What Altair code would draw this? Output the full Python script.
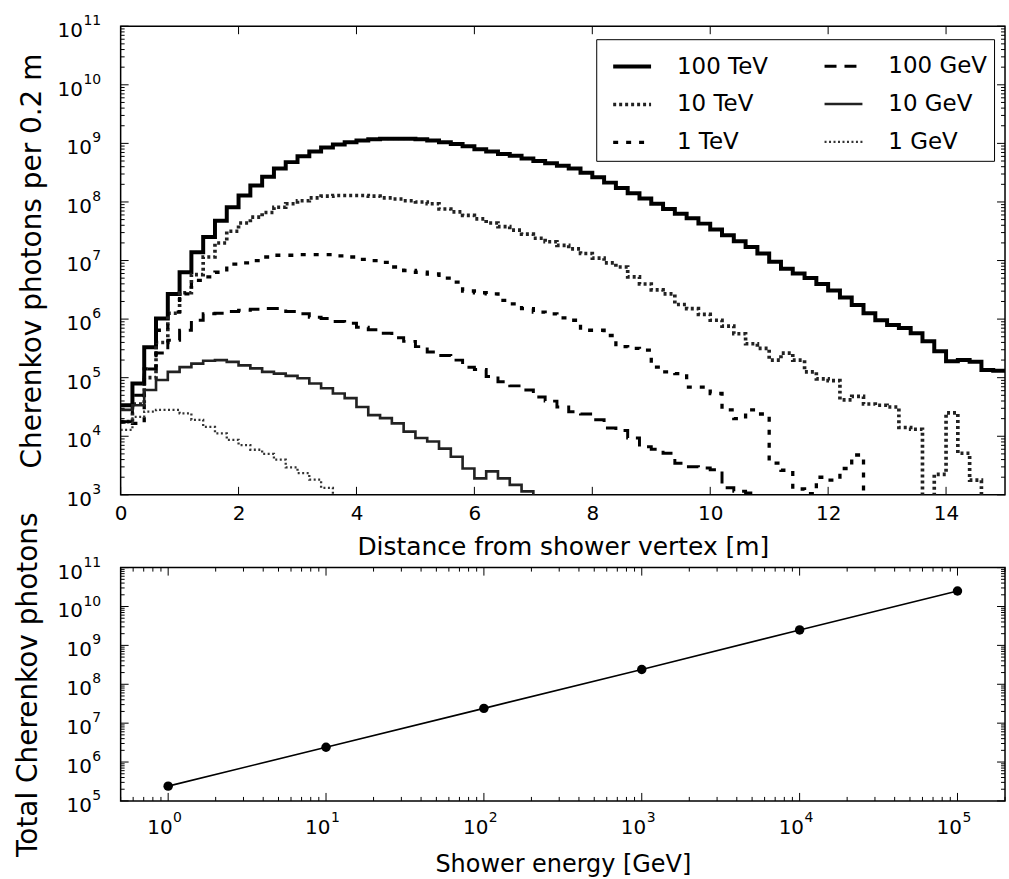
import altair as alt
import pandas as pd

# ---------------- data (log10 of photons per 0.2 m bin, bins start at 0.0, 0.2, ...) -------------
BIN_W = 0.2
# legend fills column by column: first column TeV, second column GeV
series_order = ["100 TeV", "10 TeV", "1 TeV", "100 GeV", "10 GeV", "1 GeV"]

log_100TeV = [4.53, 4.90, 5.52, 6.01, 6.43, 6.80, 7.14, 7.40, 7.68, 7.91,
              8.11, 8.28, 8.43, 8.57, 8.68, 8.78, 8.86, 8.93, 8.98, 9.02,
              9.05, 9.07, 9.08, 9.08, 9.08, 9.07, 9.05, 9.02, 8.99, 8.95,
              8.90, 8.86, 8.82, 8.79, 8.74, 8.70, 8.66, 8.62, 8.57, 8.50,
              8.42, 8.33, 8.24, 8.15, 8.06, 7.97, 7.88, 7.80, 7.72, 7.63,
              7.53, 7.43, 7.33, 7.23, 7.12, 6.98, 6.86, 6.78, 6.70, 6.60,
              6.49, 6.37, 6.24, 6.10, 5.98, 5.90, 5.85, 5.76, 5.62, 5.45,
              5.28, 5.30, 5.27, 5.13, 5.12]
log_10TeV = [4.25, 4.55, 5.00, 5.60, 6.10, 6.45, 6.76, 7.06, 7.30, 7.50,
             7.64, 7.74, 7.82, 7.91, 7.97, 8.02, 8.07, 8.10, 8.11, 8.11,
             8.11, 8.10, 8.07, 8.05, 8.02, 8.00, 7.97, 7.88, 7.83, 7.77,
             7.71, 7.64, 7.58, 7.52, 7.45, 7.38, 7.32, 7.26, 7.20, 7.12,
             7.04, 6.96, 6.89, 6.72, 6.60, 6.50, 6.43, 6.25, 6.18, 6.08,
             5.98, 5.88, 5.75, 5.58, 5.50, 5.30, 5.42, 5.30, 5.10, 4.98,
             4.95, 4.62, 4.68, 4.55, 4.53, 4.50, 4.15, 4.12, 2.50, 3.35,
             4.40, 3.71, 3.25, 2.50, 2.50]
log_1TeV = [4.24, 4.22, 5.15, 5.81, 6.12, 6.43, 6.66, 6.72, 6.80, 6.94,
            6.96, 7.00, 7.06, 7.09, 7.09, 7.10, 7.10, 7.10, 7.08, 7.06,
            7.02, 7.00, 6.97, 6.89, 6.83, 6.80, 6.77, 6.70, 6.63, 6.48,
            6.45, 6.43, 6.32, 6.26, 6.18, 6.12, 6.09, 6.02, 5.98, 5.81,
            5.81, 5.72, 5.53, 5.50, 5.47, 5.18, 5.10, 5.07, 4.84, 4.84,
            4.73, 4.45, 4.30, 4.45, 4.38, 3.54, 3.42, 3.10, 3.02, 3.30,
            3.25, 3.45, 3.68, 2.50]
log_100GeV = [4.25, 4.70, 5.15, 5.42, 5.64, 5.81, 5.98, 6.09, 6.10, 6.13,
              6.15, 6.17, 6.18, 6.18, 6.13, 6.09, 6.03, 6.01, 5.96, 5.93,
              5.86, 5.82, 5.76, 5.68, 5.62, 5.53, 5.44, 5.38, 5.30, 5.18,
              5.14, 5.02, 4.93, 4.86, 4.79, 4.67, 4.60, 4.50, 4.42, 4.38,
              4.28, 4.14, 4.10, 3.97, 3.82, 3.78, 3.71, 3.54, 3.48, 3.46,
              3.43, 3.12, 3.06, 3.03, 2.50]
log_10GeV = [4.45, 4.53, 4.79, 4.96, 5.10, 5.18, 5.24, 5.29, 5.30, 5.27,
             5.21, 5.16, 5.10, 5.07, 5.03, 4.99, 4.90, 4.82, 4.73, 4.65,
             4.50, 4.36, 4.31, 4.22, 4.08, 3.97, 3.91, 3.79, 3.65, 3.45,
             3.28, 3.40, 3.28, 3.17, 3.06, 2.50]
log_1GeV = [4.11, 4.33, 4.42, 4.45, 4.45, 4.39, 4.28, 4.16, 4.05, 3.94,
            3.85, 3.77, 3.70, 3.60, 3.47, 3.37, 3.26, 3.12, 2.50]

energies_GeV = [1, 10, 100, 1000, 10000, 100000]
total_photons = [2.4e5, 2.4e6, 2.4e7, 2.4e8, 2.5e9, 2.5e10]

x_tick_labels_top = [0, 2, 4, 6, 8, 10, 12, 14]
y_decades_top = [3, 4, 5, 6, 7, 8, 9, 10, 11]
x_decades_bot = [0, 1, 2, 3, 4, 5]
y_decades_bot = [5, 6, 7, 8, 9, 10, 11]

# ---------------- styles ----------------
series_colors = ["#000000", "#222222", "#000000", "#000000", "#222222", "#333333"]
series_dash = [[1, 0], [3, 3], [5, 8], [12, 8], [1, 0], [2, 2.5]]
series_width = [4, 2.3, 5, 4.5, 1.4, 1.4]

FONT = "DejaVu Sans"
W, H1, H2 = 887, 470, 234
MAJ, MIN = 8, 4
BASE_FS, EXP_FS = 20, 14
DIGIT_W = 0.636 * EXP_FS  # width of one superscript digit

# ---------------- build step data ----------------
rows = []
for name, vals in [("100 TeV", log_100TeV), ("10 TeV", log_10TeV), ("1 TeV", log_1TeV),
                   ("100 GeV", log_100GeV), ("10 GeV", log_10GeV), ("1 GeV", log_1GeV)]:
    for i, lv in enumerate(vals):
        rows.append({"series": name, "x": round(i * BIN_W, 2), "v": 10 ** lv})
    rows.append({"series": name, "x": round(len(vals) * BIN_W, 2), "v": 10 ** vals[-1]})
hist_df = pd.DataFrame(rows)

# tick positions
y_major_top = [10.0 ** e for e in y_decades_top]
y_minor_top = [m * 10.0 ** e for e in y_decades_top[:-1] for m in range(2, 10)]
y_major_bot = [10.0 ** e for e in y_decades_bot]
y_minor_bot = [m * 10.0 ** e for e in y_decades_bot[:-1] for m in range(2, 10)]
x_major_bot = [10.0 ** e for e in x_decades_bot]
x_minor_bot = [m * 10.0 ** e for e in [-1] + x_decades_bot for m in range(2, 10)
               if 0.5 <= m * 10.0 ** e <= 2e5]

# ---------------- scales & axes ----------------
xs_top = alt.Scale(domain=[0, 15], nice=False, zero=False)
ys_top = alt.Scale(type="log", domain=[1e3, 1e11], nice=False)
xs_bot = alt.Scale(type="log", domain=[0.5, 2e5], nice=False)
ys_bot = alt.Scale(type="log", domain=[1e5, 1e11], nice=False)

common_axis = dict(ticks=False, tickSize=0, domain=False, grid=False, labelFlush=False,
                   labelOverlap=False)
ax_x_top = alt.Axis(values=x_tick_labels_top, title="Distance from shower vertex [m]", format="d",
                    labelPadding=9, titlePadding=11, titleFontSize=25, **common_axis)
ax_y_top = alt.Axis(values=y_major_top, labels=False, title="Cherenkov photons per 0.2 m",
                    titlePadding=74, titleLimit=800, **common_axis)
ax_x_bot = alt.Axis(values=x_major_bot, labels=False, title="Shower energy [GeV]",
                    titlePadding=52, titleFontSize=24, **common_axis)
ax_y_bot = alt.Axis(values=y_major_bot, labels=False, title="Total Cherenkov photons",
                    titlePadding=78, titleLimit=800, **common_axis)


def ylabels(decades, scale, axis):
    """Power-of-ten labels ('10' + raised exponent), right aligned 20 px left of the frame."""
    layers = []
    for ndig in (1, 2):
        ds = [e for e in decades if len(str(e)) == ndig]
        if not ds:
            continue
        df = pd.DataFrame({"v": [10.0 ** e for e in ds], "exp": [str(e) for e in ds]})
        xe = -20 - ndig * DIGIT_W
        base = alt.Chart(df).mark_text(align="right", baseline="middle", fontSize=BASE_FS,
                                       font=FONT, color="black", dy=5).encode(
            y=alt.Y("v:Q", scale=scale, axis=axis), x=alt.value(xe), text=alt.value("10"))
        sup = alt.Chart(df).mark_text(align="left", baseline="middle", fontSize=EXP_FS,
                                      font=FONT, color="black", dy=-5, dx=0.5).encode(
            y=alt.Y("v:Q", scale=scale, axis=axis), x=alt.value(xe), text="exp:N")
        layers += [base, sup]
    return layers


def xlabels(decades, scale, axis, height):
    df = pd.DataFrame({"v": [10.0 ** e for e in decades], "exp": [str(e) for e in decades]})
    half = DIGIT_W / 2
    base = alt.Chart(df).mark_text(align="right", baseline="middle", fontSize=BASE_FS,
                                   font=FONT, color="black", dx=half).encode(
        x=alt.X("v:Q", scale=scale, axis=axis), y=alt.value(height + 27), text=alt.value("10"))
    sup = alt.Chart(df).mark_text(align="left", baseline="middle", fontSize=EXP_FS,
                                  font=FONT, color="black", dx=half + 0.5).encode(
        x=alt.X("v:Q", scale=scale, axis=axis), y=alt.value(height + 17), text="exp:N")
    return [base, sup]


def yticks(values, scale, axis, length, right=False, width=W):
    df = pd.DataFrame({"v": values})
    x1 = width - length if right else 0
    x2 = width if right else length
    return alt.Chart(df).mark_rule(color="black", strokeWidth=1).encode(
        y=alt.Y("v:Q", scale=scale, axis=axis), x=alt.value(x1), x2=alt.value(x2))


def xticks(values, scale, axis, length, height, top=False):
    df = pd.DataFrame({"v": values})
    y1 = 0 if top else height - length
    y2 = length if top else height
    return alt.Chart(df).mark_rule(color="black", strokeWidth=1).encode(
        x=alt.X("v:Q", scale=scale, axis=axis), y=alt.value(y1), y2=alt.value(y2))


# ---------------- top panel ----------------
legend = alt.Legend(
    title=None, orient="none", legendX=477, legendY=13, columns=2,
    symbolType="stroke", symbolSize=1444, symbolOffset=8.5, labelFont=FONT, labelFontSize=23,
    labelColor="black", labelOffset=24, rowPadding=5, columnPadding=46,
    strokeColor="black", fillColor="white", padding=6.5,
)

lines = alt.Chart(hist_df).mark_line(interpolate="step-after", clip=True).encode(
    x=alt.X("x:Q", scale=xs_top, axis=ax_x_top),
    y=alt.Y("v:Q", scale=ys_top, axis=ax_y_top),
    color=alt.Color("series:N", scale=alt.Scale(domain=series_order, range=series_colors), legend=legend),
    strokeDash=alt.StrokeDash("series:N", scale=alt.Scale(domain=series_order, range=series_dash), legend=legend),
    strokeWidth=alt.StrokeWidth("series:N", scale=alt.Scale(domain=series_order, range=series_width), legend=legend),
    order=alt.Order("x:Q"),
)

top = alt.layer(
    lines,
    yticks(y_major_top, ys_top, ax_y_top, MAJ), yticks(y_minor_top, ys_top, ax_y_top, MIN),
    yticks(y_major_top, ys_top, ax_y_top, MAJ, right=True),
    yticks(y_minor_top, ys_top, ax_y_top, MIN, right=True),
    xticks(x_tick_labels_top, xs_top, ax_x_top, MAJ, H1),
    xticks(x_tick_labels_top, xs_top, ax_x_top, MAJ, H1, top=True),
    *ylabels(y_decades_top, ys_top, ax_y_top),
).properties(width=W, height=H1)

# ---------------- bottom panel ----------------
tot_df = pd.DataFrame({"E": energies_GeV, "N": total_photons})

base_bot = alt.Chart(tot_df).encode(
    x=alt.X("E:Q", scale=xs_bot, axis=ax_x_bot),
    y=alt.Y("N:Q", scale=ys_bot, axis=ax_y_bot),
)
bot_line = base_bot.mark_line(color="black", strokeWidth=1.6)
bot_pts = base_bot.mark_point(filled=True, color="black", size=90, opacity=1)

bottom = alt.layer(
    bot_line, bot_pts,
    yticks(y_major_bot, ys_bot, ax_y_bot, MAJ), yticks(y_minor_bot, ys_bot, ax_y_bot, MIN),
    yticks(y_major_bot, ys_bot, ax_y_bot, MAJ, right=True),
    yticks(y_minor_bot, ys_bot, ax_y_bot, MIN, right=True),
    xticks(x_major_bot, xs_bot, ax_x_bot, MAJ, H2), xticks(x_minor_bot, xs_bot, ax_x_bot, MIN, H2),
    xticks(x_major_bot, xs_bot, ax_x_bot, MAJ, H2, top=True),
    xticks(x_minor_bot, xs_bot, ax_x_bot, MIN, H2, top=True),
    *ylabels(y_decades_bot, ys_bot, ax_y_bot),
    *xlabels(x_decades_bot, xs_bot, ax_x_bot, H2),
).properties(width=W, height=H2)

chart = alt.vconcat(top, bottom, spacing=73, bounds="flush").properties(
    padding={"left": 14, "top": 12, "right": 2, "bottom": 0}, background="white"
).configure_view(stroke="black", strokeWidth=1.5).configure_axis(
    labelFont=FONT, labelFontSize=20, labelColor="black",
    titleFont=FONT, titleFontSize=24, titleColor="black", titleFontWeight="normal",
).configure_axisY(titleFontSize=28)

chart.save("out.html", embed_options={"renderer": "svg", "actions": False})
